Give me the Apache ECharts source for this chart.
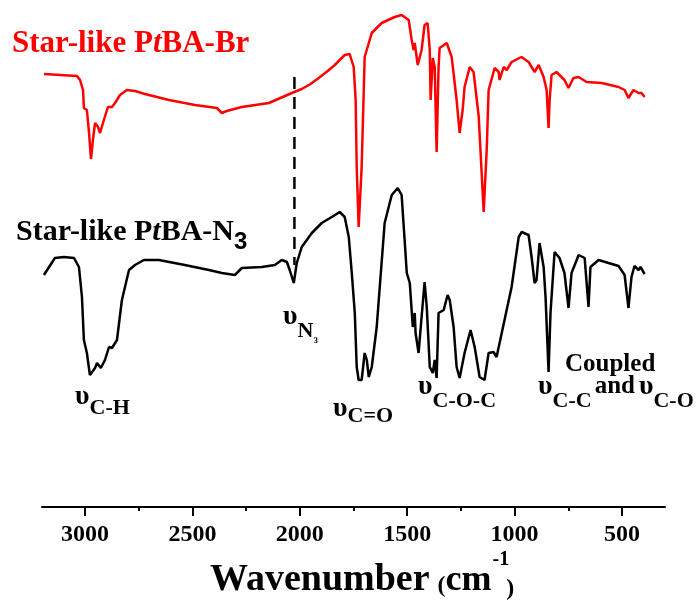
<!DOCTYPE html>
<html>
<head>
<meta charset="utf-8">
<script src="https://cdn.jsdelivr.net/npm/echarts@6/dist/echarts.min.js"></script>
<style>html,body{margin:0;padding:0;background:#fff;}#c{width:700px;height:601px;}</style>
</head>
<body>
<div id="c"></div>
<script>
// Star-like PtBA-Br spectrum (wavenumber, transmittance a.u.)
const brX = [3191,3037,3023,3009,3005,2991,2981,2972,2963,2953,2939,2930,2912,2893,2874,2860,2837,2805,2767,2721,2609,2488,2386,2363,2340,2270,2144,2037,1991,1950,1912,1870,1837,1791,1768,1749,1740,1735,1726,1712,1698,1665,1619,1558,1526,1493,1479,1470,1465,1451,1433,1419,1405,1395,1391,1381,1372,1363,1354,1349,1316,1293,1270,1256,1242,1233,1209,1191,1167,1144,1130,1121,1093,1074,1070,1051,1037,1014,968,935,907,888,865,851,842,837,828,805,768,749,726,702,665,595,516,488,470,447,423,409,395];
const brY = [433,431,427,417,399,397,374,348,367,384,380,374,387,400,400,404,412,417,416,413,407,402,399,394,396,400,404,414,418,423,429,436,442,452,453,440,407,340,280,340,450,474,484,490,492,487,467,457,464,442,457,482,484,457,407,449,440,355,440,459,464,450,407,374,397,420,440,435,390,295,357,417,439,435,427,440,437,445,450,445,435,442,430,417,379,407,432,435,427,419,429,430,425,424,420,417,409,417,414,414,410];
// Star-like PtBA-N3 spectrum
const n3X = [3191,3140,3098,3051,3028,3014,3005,2991,2977,2953,2944,2926,2907,2888,2874,2851,2828,2795,2767,2726,2656,2535,2423,2363,2302,2270,2177,2116,2084,2060,2047,2028,2014,1991,1944,1898,1851,1814,1791,1772,1758,1744,1735,1726,1712,1698,1688,1679,1665,1642,1605,1572,1544,1526,1512,1502,1488,1474,1465,1461,1447,1433,1419,1409,1395,1381,1372,1363,1354,1330,1312,1302,1284,1270,1256,1233,1205,1186,1163,1140,1121,1098,1084,1070,1037,1014,981,967,935,921,907,898,884,865,856,842,833,814,791,768,749,735,702,674,656,647,609,563,516,488,470,456,442,423,414,395];
const n3Y = [232,249,250,249,240,210,167,154,132,139,144,139,147,160,159,167,207,237,242,247,247,242,237,234,232,239,240,242,247,245,237,224,244,260,274,284,290,295,290,270,234,194,140,127,127,154,147,130,140,180,284,312,319,312,267,234,224,180,194,174,154,190,225,200,140,134,147,129,194,197,212,207,180,140,129,154,177,160,130,127,154,155,150,164,197,220,270,275,272,250,224,227,264,240,210,135,194,255,249,234,199,234,252,249,200,240,247,244,241,232,199,230,241,237,240,233];
// Azide marker (dashed guide)
const azideX = [2025, 2025];
const azideY = [430, 242];
// Axis ticks
const majorTicks = [3000, 2500, 2000, 1500, 1000, 500];
const minorTicks = [2750, 2250, 1750, 1250, 750];

const SERIF = '"Liberation Serif", "Times New Roman", serif';
const SANS = '"Liberation Sans", Arial, sans-serif';
const mctx = document.createElement('canvas').getContext('2d');
function tw(text, font) { mctx.font = font; return mctx.measureText(text).width; }
function f(size, fam, style) { return (style || 'bold') + ' ' + size + 'px ' + (fam || SERIF); }

// parts: [text, size, baseline, family, style, dx]
function run(x0, parts, color) {
  const els = [];
  let x = x0;
  parts.forEach(p => {
    const [text, size, base, fam, style, dx] = p;
    const font = f(size, fam, style);
    x += (dx || 0);
    els.push({type: 'text', x: x, y: base - 0.3 * size, silent: true,
      style: {text: text, font: font, fill: color || '#000', align: 'left', verticalAlign: 'middle'}});
    x += tw(text, font);
  });
  return els;
}

const graphics = [].concat(
  run(12, [['Star-like P', 31, 53], ['t', 31, 53, SERIF, 'italic bold'], ['BA-Br', 31, 53]], '#ff0000'),
  run(16, [['Star-like P', 30, 241], ['t', 30, 241, SERIF, 'italic bold'], ['BA-N', 30, 241], ['3', 24, 250, SANS]]),
  run(283, [['υ', 28, 325], ['N', 22, 338], ['3', 9, 343]]),
  run(75, [['υ', 28, 405], ['C-H', 22, 415]]),
  run(333, [['υ', 28, 417], ['C=O', 22, 423]]),
  run(418, [['υ', 28, 395], ['C-O-C', 22, 408]]),
  run(565, [['Coupled', 25, 372]]),
  run(538, [['υ', 28, 395], ['C-C', 22, 408], ['and', 25, 394, SERIF, 'bold', 3], ['υ', 28, 395, SERIF, 'bold', 4], ['C-O', 22, 408]]),
  run(210, [['Wavenumber', 38, 592], ['(', 24, 593, SERIF, 'bold', 8], ['cm', 36, 592], ['-1', 20, 566, SERIF, 'bold', 1], [')', 24, 596, SERIF, 'bold', -3]])
);

const chart = echarts.init(document.getElementById('c'), null, {renderer: 'canvas'});
const axisBase = {type: 'value', min: 300, max: 3200, inverse: true, position: 'bottom', splitLine: {show: false}};
chart.setOption({
  animation: false,
  backgroundColor: '#fff',
  grid: {left: 42, right: 35, top: 0, bottom: 94},
  xAxis: [
    Object.assign({}, axisBase, {
      axisLine: {show: true, lineStyle: {color: '#000', width: 2}},
      axisTick: {show: true, customValues: majorTicks, length: 9, lineStyle: {color: '#000', width: 2}},
      axisLabel: {show: true, customValues: majorTicks, margin: 16, color: '#000',
        fontFamily: SERIF, fontWeight: 'bold', fontSize: 24, formatter: v => String(v)}
    }),
    Object.assign({}, axisBase, {
      axisLine: {show: false},
      axisTick: {show: true, customValues: minorTicks, length: 4, lineStyle: {color: '#000', width: 2}},
      axisLabel: {show: false}
    })
  ],
  yAxis: {type: 'value', min: 0, max: 507, show: false},
  series: [
    {type: 'line', name: 'Star-like PtBA-Br', xAxisIndex: 0, data: brX.map((x, i) => [x, brY[i]]),
      showSymbol: false, lineStyle: {color: '#ff0000', width: 2.5}, itemStyle: {color: '#ff0000'}},
    {type: 'line', name: 'Star-like PtBA-N3', xAxisIndex: 0, data: n3X.map((x, i) => [x, n3Y[i]]),
      showSymbol: false, lineStyle: {color: '#000', width: 2.5}, itemStyle: {color: '#000'}},
    {type: 'line', name: 'N3 marker', xAxisIndex: 0, data: azideX.map((x, i) => [x, azideY[i]]),
      showSymbol: false, lineStyle: {color: '#000', width: 2.5, type: [12, 8]}}
  ],
  graphic: graphics
});
</script>
</body>
</html>
